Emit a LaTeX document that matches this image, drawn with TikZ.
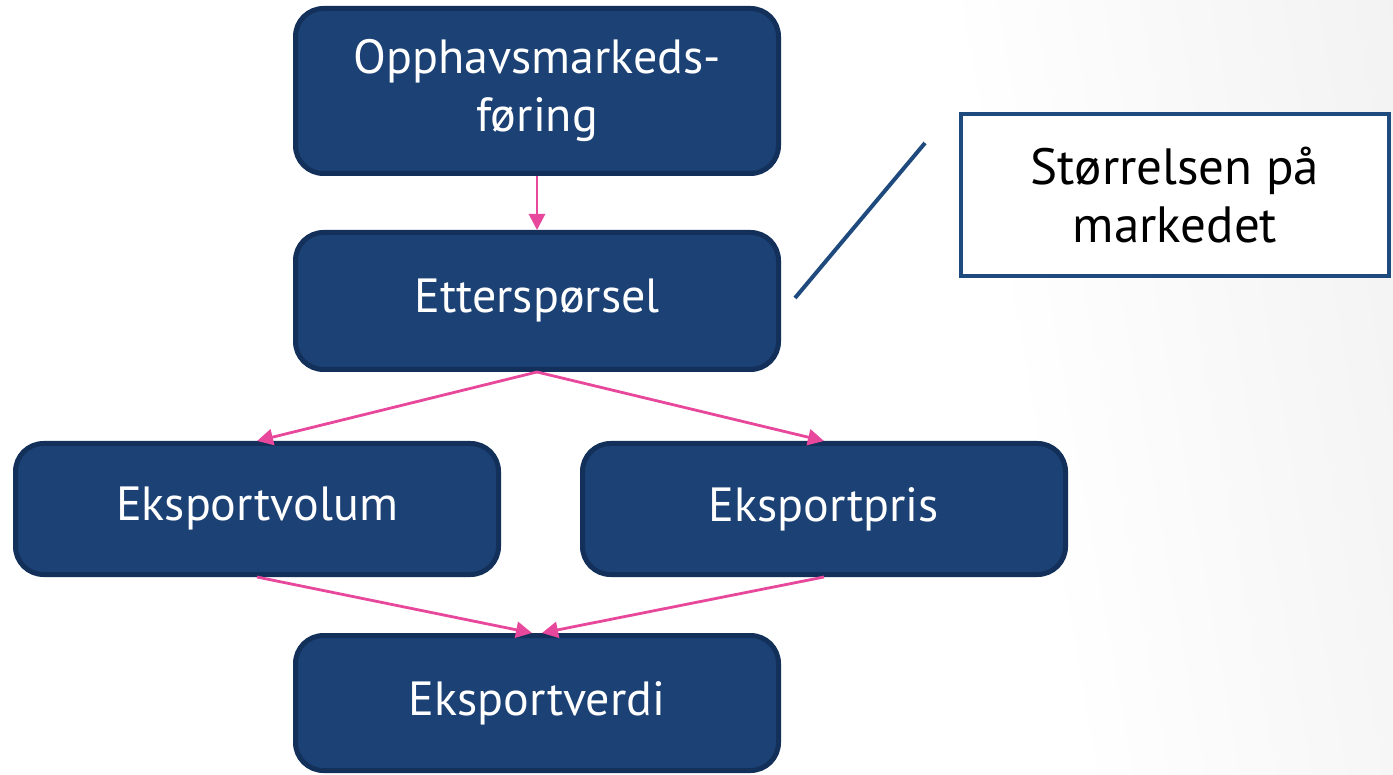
\documentclass[tikz,border=0pt]{standalone}
\usepackage{fontspec}
\setmainfont{PT Sans}
\usetikzlibrary{arrows.meta}
\definecolor{boxblue}{HTML}{1B4175}
\definecolor{boxedge}{HTML}{12305A}
\definecolor{arrowpink}{HTML}{E8489B}
\definecolor{lineblue}{HTML}{1F4A7E}
\pgfdeclarehorizontalshading{bakgrunn}{100bp}{color(0bp)=(white); color(62bp)=(white); color(100bp)=(black!11)}
\tikzset{
  blok/.style={draw=boxedge, fill=boxblue, line width=5pt, rounded corners=28pt,
    text=white, align=center, inner sep=0pt, minimum width=483pt,
    font=\fontsize{48}{58}\selectfont},
  merknad/.style={draw=lineblue, fill=white, line width=4pt, align=center,
    inner sep=0pt, minimum width=428pt, minimum height=162pt,
    font=\fontsize{51}{58}\selectfont},
  pil/.style={draw=arrowpink, line width=2.8pt, -{Triangle[length=16pt,width=16pt]}}
}
\begin{document}
\begin{tikzpicture}[x=1pt, y=-1pt]
	\useasboundingbox (0,0) rectangle (1393,775);
	\shade[shading=bakgrunn, shading angle=10] (0,0) rectangle (1393,775);
	% boksene
	\node[blok, minimum height=165pt] (opphav) at (537,91) {Opphavsmarkeds-\\føring};
	\node[blok, minimum height=137pt] (ettersp) at (537,301) {Etterspørsel};
	\node[blok, minimum height=131pt] (volum) at (257,509) {Eksportvolum};
	\node[blok, minimum height=131pt] (pris) at (824,509) {Eksportpris};
	\node[blok, minimum height=135pt] (verdi) at (537,703) {Eksportverdi};
	\node[merknad] (storrelse) at (1175,195) {Størrelsen på\\markedet};
	% pilene
	\draw[pil] (opphav.south) -- (ettersp.north);
	\draw[pil] (ettersp.south) -- (volum.north);
	\draw[pil] (ettersp.south) -- (pris.north);
	\draw[pil] (volum.south) -- ([xshift=-5pt]verdi.north);
	\draw[pil] (pris.south) -- ([xshift=5pt]verdi.north);
	% skraa strek
	\coordinate (strekA) at (795,298);
	\coordinate (strekB) at (925,143);
	\draw[lineblue, line width=4pt] (strekA) -- (strekB);
\end{tikzpicture}
\end{document}
